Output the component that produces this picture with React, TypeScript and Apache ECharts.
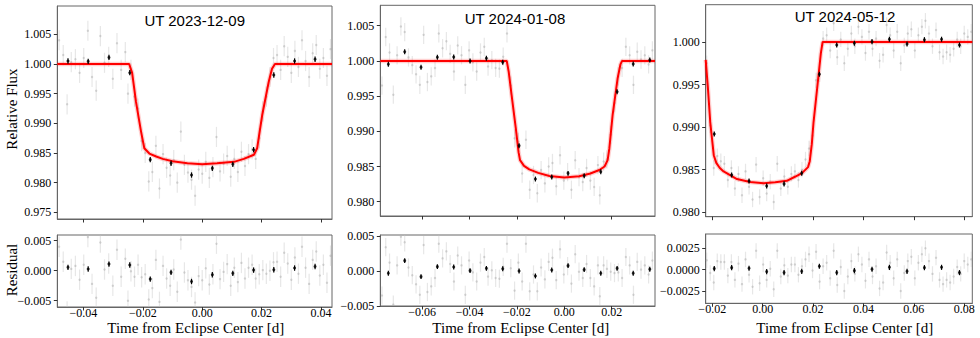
import React, { useEffect, useRef } from "react";
import * as echarts from "echarts";

const titles = ["UT 2023-12-09", "UT 2024-01-08", "UT 2024-05-12"];

// binned points: [time, flux, residual]
const binned1 = [
  [-0.0452, 1.0005, 0.00056], [-0.0384, 1.00044, 0.00028], [-0.0314, 1.0011, 0.0011],
  [-0.0244, 0.99853, 0.00094], [-0.0175, 0.98387, -0.0014], [-0.0105, 0.98326, -0.00028],
  [-0.0036, 0.98128, -0.0018], [0.0034, 0.98241, -0.00067], [0.0103, 0.98309, -0.00044],
  [0.0173, 0.98555, 0.0001], [0.0241, 0.99814, 0.00017], [0.0311, 1.0005, 0.00044],
  [0.038, 1.00079, 0.0007],
];
const binned2 = [
  [-0.0743, 0.99952, -0.00033], [-0.0674, 1.00131, 0.00148], [-0.0605, 0.99909, -0.00081],
  [-0.0536, 1.00051, 0.00062], [-0.0467, 1.00056, 0.00057], [-0.0398, 0.99999, 0.00005],
  [-0.0329, 1.00037, 0.00038], [-0.026, 0.9998, 0.00033], [-0.0191, 0.98796, 0.0],
  [-0.0122, 0.98322, -0.00071], [-0.0053, 0.98351, 0.00014], [0.0016, 0.98403, 0.00076],
  [0.0084, 0.98369, 0.00019], [0.0154, 0.98426, -0.00033], [0.0223, 0.99563, 0.00038],
  [0.0291, 0.99956, -0.00033], [0.0361, 1.00013, 0.00024],
];
const binned3 = [
  [-0.0192, 0.9892, 0.00012], [-0.0123, 0.98438, 0.00023], [-0.0054, 0.98368, 0.00016],
  [0.0016, 0.98309, -0.00023], [0.0085, 0.98333, -0.00035], [0.0155, 0.98458, -0.0002],
  [0.0225, 0.99621, 0.00039], [0.0294, 0.99965, -0.00035], [0.0364, 0.99985, -0.00012],
  [0.0434, 1.00004, 0.00004], [0.0503, 1.00032, 0.00027], [0.0573, 0.99977, -0.0002],
  [0.0642, 1.00027, 0.00023], [0.071, 1.00032, 0.00027], [0.0781, 0.99965, -0.00035],
];

// model curves: [time, flux]
const model1 = [
  [-0.0488, 1.0], [-0.0246, 1.0], [-0.0236, 0.9985], [-0.0223, 0.9936], [-0.0206, 0.9886],
  [-0.0195, 0.9858], [-0.0178, 0.9849], [-0.0155, 0.9844], [-0.0133, 0.984], [-0.01, 0.9836],
  [-0.005, 0.98325], [0.0, 0.9831], [0.005, 0.98325], [0.0107, 0.9835], [0.014, 0.984],
  [0.0174, 0.9847], [0.0185, 0.9858], [0.0202, 0.9914], [0.0224, 0.997], [0.0235, 0.9992],
  [0.0245, 1.0], [0.0437, 1.0],
];
const model2 = [
  [-0.0777, 1.0], [-0.0243, 1.0], [-0.0235, 0.9985], [-0.0222, 0.995], [-0.0205, 0.9905],
  [-0.0193, 0.987], [-0.0187, 0.9859], [-0.017, 0.9851], [-0.0148, 0.9846], [-0.011, 0.9841],
  [-0.0063, 0.98365], [0.0, 0.98345], [0.0063, 0.98362], [0.011, 0.984], [0.0148, 0.9845],
  [0.017, 0.985], [0.0183, 0.9859], [0.019, 0.9875], [0.0204, 0.9923], [0.0225, 0.9975],
  [0.0237, 0.9995], [0.0244, 1.0], [0.0383, 1.0],
];
const model3 = [
  [-0.0226, 0.9979], [-0.0217, 0.9945], [-0.0208, 0.9906], [-0.0194, 0.9867], [-0.0184, 0.9858],
  [-0.017, 0.9852], [-0.0155, 0.9848], [-0.0102, 0.9839], [-0.005, 0.98355], [0.0004, 0.9834],
  [0.005, 0.98352], [0.0096, 0.9837], [0.013, 0.9842], [0.0156, 0.9846], [0.018, 0.9853],
  [0.0187, 0.986], [0.0195, 0.988], [0.0202, 0.9906], [0.0219, 0.9953], [0.0231, 0.9987],
  [0.0238, 1.0], [0.0832, 1.0],
];

// unbinned points: [time, flux, residual]
const gray1 = [
  [-0.0482, 1.004, 0.004], [-0.0468, 1.0015, 0.0015], [-0.0455, 0.9932, -0.0068], [-0.0441, 1.0003, 0.0003],
  [-0.0427, 1.0008, 0.0008], [-0.0413, 0.9985, -0.0015], [-0.0399, 1.001, 0.001], [-0.0385, 1.0056, 0.0056],
  [-0.0371, 0.9978, -0.0022], [-0.0357, 0.9955, -0.0045], [-0.0343, 1.0047, 0.0047], [-0.0329, 1.0002, 0.0002],
  [-0.0315, 1.0012, 0.0012], [-0.0301, 0.9975, -0.0025], [-0.0287, 1.0035, 0.0035], [-0.0273, 0.999, -0.001],
  [-0.0259, 1.002, 0.002], [-0.025, 0.995, -0.005], [-0.024, 0.999, -0.0001], [-0.0228, 0.9945, -0.001],
  [-0.0216, 0.9925, 0.001], [-0.0204, 0.987, -0.0011], [-0.0192, 0.985, -0.0006], [-0.018, 0.9802, -0.0048],
  [-0.0168, 0.9818, -0.0029], [-0.0156, 0.9862, 0.0018], [-0.0144, 0.979, -0.0052], [-0.0132, 0.9848, 0.0008],
  [-0.012, 0.9825, -0.0013], [-0.0108, 0.9812, -0.0025], [-0.0096, 0.9838, 0.0002], [-0.0084, 0.98, -0.0035],
  [-0.0072, 0.9886, 0.0052], [-0.006, 0.983, -0.0003], [-0.0048, 0.9817, -0.0016], [-0.0036, 0.9805, -0.0027],
  [-0.0024, 0.9778, -0.0053], [-0.0012, 0.9822, -0.0009], [0.0, 0.9815, -0.0016], [0.0012, 0.9835, 0.0004],
  [0.0024, 0.9808, -0.0023], [0.0036, 0.9826, -0.0006], [0.0048, 0.9877, 0.0045], [0.006, 0.9819, -0.0014],
  [0.0072, 0.9832, -0.0002], [0.0084, 0.9845, 0.0011], [0.0096, 0.981, -0.0025], [0.0108, 0.984, 0.0005],
  [0.012, 0.9818, -0.0019], [0.0132, 0.9852, 0.0013], [0.0144, 0.9828, -0.0013], [0.0156, 0.9848, 0.0005],
  [0.0168, 0.9856, 0.001], [0.018, 0.984, -0.0013], [0.0192, 0.9875, -0.0006], [0.0204, 0.992, 0.0001],
  [0.0216, 0.9945, -0.0005], [0.0228, 0.9978, 0.0], [0.024, 1.001, 0.0014], [0.0252, 1.0015, 0.0015],
  [0.0264, 0.999, -0.001], [0.0276, 1.003, 0.003], [0.0288, 1.0012, 0.0012], [0.03, 0.9985, -0.0015],
  [0.0312, 1.0022, 0.0022], [0.0324, 0.9995, -0.0005], [0.0336, 1.004, 0.004], [0.0348, 1.0005, 0.0005],
  [0.036, 0.9978, -0.0022], [0.0372, 1.0018, 0.0018], [0.0384, 1.0032, 0.0032], [0.0396, 0.9992, -0.0008],
  [0.0408, 1.001, 0.001], [0.042, 0.998, -0.002], [0.0432, 1.0025, 0.0025],
];
const gray2 = [
  [-0.077, 0.9965, -0.0035], [-0.0754, 1.0034, 0.0034], [-0.0738, 1.0012, 0.0012], [-0.0722, 0.9952, -0.0048],
  [-0.0706, 1.0008, 0.0008], [-0.069, 1.0049, 0.0049], [-0.0674, 1.0041, 0.0041], [-0.0658, 1.0005, 0.0005],
  [-0.0642, 0.9994, -0.0006], [-0.0626, 0.9981, -0.0019], [-0.061, 0.9966, -0.0034], [-0.0594, 1.0037, 0.0037],
  [-0.0578, 0.997, -0.003], [-0.0562, 0.9978, -0.0022], [-0.0546, 0.999, -0.001], [-0.053, 1.0039, 0.0039],
  [-0.0514, 1.0018, 0.0018], [-0.0498, 1.0028, 0.0028], [-0.0482, 1.001, 0.001], [-0.0466, 0.9985, -0.0015],
  [-0.045, 1.0022, 0.0022], [-0.0434, 1.0008, 0.0008], [-0.0418, 0.9966, -0.0034], [-0.0402, 1.0015, 0.0015],
  [-0.0386, 0.9998, -0.0002], [-0.037, 0.9985, -0.0015], [-0.0354, 1.0012, 0.0012], [-0.0338, 1.002, 0.002],
  [-0.0322, 0.9992, -0.0008], [-0.0306, 1.0001, 0.0001], [-0.029, 0.999, -0.001], [-0.0274, 0.9989, -0.0011],
  [-0.0258, 1.0006, 0.0006], [-0.0242, 1.0039, 0.0039], [-0.0226, 0.9965, 0.0004], [-0.021, 0.989, -0.0028],
  [-0.0194, 0.9885, 0.0012], [-0.0178, 0.984, -0.0015], [-0.0162, 0.9888, 0.0039], [-0.0146, 0.9817, -0.0029],
  [-0.013, 0.9838, -0.0005], [-0.0114, 0.9812, -0.0029], [-0.0098, 0.9845, 0.0005], [-0.0082, 0.9826, -0.0012],
  [-0.0066, 0.985, 0.0013], [-0.005, 0.9855, 0.0019], [-0.0034, 0.9822, -0.0013], [-0.0018, 0.9866, 0.0031],
  [-0.0002, 0.983, -0.0005], [0.0014, 0.9842, 0.0007], [0.003, 0.9817, -0.0018], [0.0046, 0.9859, 0.0024],
  [0.0062, 0.9835, -0.0001], [0.0078, 0.9828, -0.001], [0.0094, 0.9848, 0.001], [0.011, 0.983, -0.001],
  [0.0126, 0.9821, -0.0022], [0.0142, 0.9852, 0.0008], [0.015, 0.9809, -0.0036], [0.0166, 0.9857, 0.0008],
  [0.018, 0.986, 0.0003], [0.0196, 0.9895, -0.0001], [0.0212, 0.994, -0.0003], [0.0228, 0.9978, -0.0002],
  [0.0244, 0.999, -0.001], [0.026, 1.002, 0.002], [0.0276, 1.0008, 0.0008], [0.0292, 0.9966, -0.0034],
  [0.0308, 1.0013, 0.0013], [0.0324, 1.0002, 0.0002], [0.034, 1.0008, 0.0008], [0.0356, 0.9995, -0.0005],
  [0.0372, 1.0015, 0.0015],
];
const gray3 = [
  [-0.0222, 0.9975, 0.0011], [-0.0208, 0.9902, -0.0004], [-0.0194, 0.9852, -0.0015], [-0.018, 0.9866, 0.001],
  [-0.0166, 0.986, 0.0009], [-0.0152, 0.9857, 0.0009], [-0.0138, 0.9838, -0.0007], [-0.0124, 0.9852, 0.0009],
  [-0.011, 0.9828, -0.0012], [-0.0096, 0.9845, 0.0007], [-0.0082, 0.982, -0.0017], [-0.0068, 0.9848, 0.0012],
  [-0.0054, 0.983, -0.0006], [-0.004, 0.9815, -0.002], [-0.0026, 0.9856, 0.0022], [-0.0012, 0.9818, -0.0016],
  [0.0002, 0.984, 0.0006], [0.0016, 0.9822, -0.0012], [0.003, 0.9836, 0.0001], [0.0044, 0.9812, -0.0023],
  [0.0058, 0.9857, 0.0022], [0.0072, 0.9828, -0.0008], [0.0086, 0.9842, 0.0005], [0.01, 0.983, -0.0007],
  [0.0114, 0.9845, 0.0006], [0.0128, 0.9848, 0.0006], [0.0142, 0.9838, -0.0006], [0.0156, 0.985, 0.0004],
  [0.017, 0.9862, 0.0012], [0.0184, 0.9875, 0.0018], [0.0198, 0.989, -0.0001], [0.0212, 0.9955, 0.0021],
  [0.0226, 0.9962, -0.0014], [0.024, 1.0004, 0.0004], [0.0254, 1.0008, 0.0008], [0.0268, 0.999, -0.001],
  [0.0282, 1.0022, 0.0022], [0.0296, 0.9982, -0.0018], [0.031, 1.0003, 0.0003], [0.0324, 0.9975, -0.0025],
  [0.0338, 0.9992, -0.0008], [0.0352, 1.001, 0.001], [0.0366, 0.9995, -0.0005], [0.038, 1.0018, 0.0018],
  [0.0394, 1.0006, 0.0006], [0.0408, 0.9987, -0.0013], [0.0422, 1.0012, 0.0012], [0.0436, 0.9992, -0.0008],
  [0.045, 1.0004, 0.0004], [0.0464, 0.9978, -0.0022], [0.0478, 0.9985, -0.0015], [0.0492, 1.002, 0.002],
  [0.0506, 1.0008, 0.0008], [0.052, 0.999, -0.001], [0.0534, 1.0012, 0.0012], [0.0548, 0.9975, -0.0025],
  [0.0562, 0.9996, -0.0004], [0.0576, 1.001, 0.001], [0.059, 1.0015, 0.0015], [0.0604, 0.999, -0.001],
  [0.0618, 1.0008, 0.0008], [0.0632, 1.0018, 0.0018], [0.0646, 1.0025, 0.0025], [0.066, 1.001, 0.001],
  [0.0674, 0.9995, -0.0005], [0.0688, 1.0014, 0.0014], [0.0702, 0.9988, -0.0012], [0.0716, 0.9983, -0.0017],
  [0.073, 0.9988, -0.0012], [0.0744, 0.9985, -0.0015], [0.0758, 0.9992, -0.0008], [0.0772, 1.0003, 0.0003],
  [0.0786, 0.9995, -0.0005], [0.08, 1.001, 0.001], [0.0814, 1.0006, 0.0006], [0.0828, 1.0012, 0.0012],
];

// tick values
const xTicks1 = [-0.04, -0.02, 0.0, 0.02, 0.04];
const xTicks2 = [-0.06, -0.04, -0.02, 0.0, 0.02];
const xTicks3 = [-0.02, 0.0, 0.02, 0.04, 0.06, 0.08];
const yTicks1 = [0.975, 0.98, 0.985, 0.99, 0.995, 1.0, 1.005];
const yTicks2 = [0.98, 0.985, 0.99, 0.995, 1.0, 1.005];
const yTicks3 = [0.98, 0.985, 0.99, 0.995, 1.0];
const rTicks1 = [-0.005, 0.0, 0.005];
const rTicks2 = [-0.005, 0.0, 0.005];
const rTicks3 = [-0.0025, 0.0, 0.0025];

const SERIF = "Liberation Serif";
const SANS = "Liberation Sans";

const panels = [
  {
    title: titles[0], titleX: 194.7, titleY: 20, xlabX: 195.7,
    binned: binned1, model: model1, gray: gray1,
    xTicks: xTicks1, yTicks: yTicks1, rTicks: rTicks1, rDec: 3,
    xr: [-0.0488, 0.0437], yr: [0.97387, 1.00977], rr: [-0.00605, 0.00595],
    top: { left: 57.3, top: 6, width: 274.7, height: 213 },
    bot: { left: 57.3, top: 235, width: 274.7, height: 72 },
    ge: 0.0017, be: 0.00045,
  },
  {
    title: titles[1], titleX: 515, titleY: 18.3, xlabX: 520.8,
    binned: binned2, model: model2, gray: gray2,
    xTicks: xTicks2, yTicks: yTicks2, rTicks: rTicks2, rDec: 3,
    xr: [-0.0777, 0.0383], yr: [0.97797, 1.0079], rr: [-0.005, 0.00514],
    top: { left: 380.3, top: 5.3, width: 274.7, height: 210.7 },
    bot: { left: 380.3, top: 235, width: 274.7, height: 71 },
    ge: 0.0013, be: 0.00035,
  },
  {
    title: titles[2], titleX: 845, titleY: 16.7, xlabX: 844.7,
    binned: binned3, model: model3, gray: gray3,
    xTicks: xTicks3, yTicks: yTicks3, rTicks: rTicks3, rDec: 4,
    xr: [-0.0226, 0.0832], yr: [0.97948, 1.00438], rr: [-0.00394, 0.00417],
    top: { left: 705.7, top: 4.7, width: 266.6, height: 212 },
    bot: { left: 705.7, top: 234, width: 266.6, height: 69.3 },
    ge: 0.0009, be: 0.0003,
  },
];

const fmt = (d: number) => (v: number) => {
  const s = Math.abs(v) < 1e-12 ? (0).toFixed(d) : Number(v).toFixed(d);
  return s.replace("-", "\u2212");
};

function errRender(color: string, width: number, lo: number, hi: number) {
  return (_p: any, api: any) => {
    const t = api.value(0);
    const y = api.value(1);
    const e = api.value(2);
    const a0 = Math.max(lo, y - e);
    const b0 = Math.min(hi, y + e);
    if (a0 > hi || b0 < lo) return null;
    const a = api.coord([t, a0]);
    const b = api.coord([t, b0]);
    return {
      type: "line",
      shape: { x1: a[0], y1: a[1], x2: b[0], y2: b[1] },
      style: { stroke: color, lineWidth: width },
      silent: true,
    };
  };
}

function textEl(text: string, x: number, y: number, family: string, rot = 0) {
  return {
    type: "text",
    x,
    y,
    rotation: rot,
    z: 100,
    style: {
      text,
      fontFamily: family,
      fontSize: 15,
      lineHeight: 14,
      fill: "#000",
      align: "center",
      verticalAlign: "middle",
    },
  };
}

function buildOption() {
  const grid: any[] = [];
  const xAxis: any[] = [];
  const yAxis: any[] = [];
  const series: any[] = [];
  const graphic: any[] = [];
  const frame = "#666";

  panels.forEach((p, i) => {
    const gTop = i * 2;
    const gBot = i * 2 + 1;
    [p.top, p.bot].forEach((g) => {
      grid.push({
        ...g,
        show: true,
        borderColor: frame,
        borderWidth: 1,
        backgroundColor: "transparent",
        containLabel: false,
      });
    });
    [gTop, gBot].forEach((gi) => {
      const isBot = gi === gBot;
      xAxis.push({
        type: "value",
        gridIndex: gi,
        min: p.xr[0],
        max: p.xr[1],
        axisLine: { show: true, onZero: false, lineStyle: { color: frame, width: 1 } },
        axisTick: { show: true, inside: false, length: 3.5, customValues: p.xTicks, lineStyle: { color: "#333" } },
        axisLabel: {
          show: isBot,
          customValues: p.xTicks,
          formatter: fmt(2),
          fontFamily: SERIF,
          fontSize: 12,
          lineHeight: 10,
          color: "#000",
          margin: 1,
        },
        splitLine: { show: false },
      });
      const yr = isBot ? p.rr : p.yr;
      const yt = isBot ? p.rTicks : p.yTicks;
      yAxis.push({
        type: "value",
        gridIndex: gi,
        min: yr[0],
        max: yr[1],
        axisLine: { show: true, onZero: false, lineStyle: { color: frame, width: 1 } },
        axisTick: { show: true, inside: false, length: 3.5, customValues: yt, lineStyle: { color: "#333" } },
        axisLabel: {
          show: true,
          customValues: yt,
          formatter: fmt(isBot ? p.rDec : 3),
          fontFamily: SERIF,
          fontSize: 12,
          color: "#000",
          margin: 6,
        },
        splitLine: { show: false },
      });
    });

    const yr = p.yr;
    series.push({
      type: "custom",
      xAxisIndex: gTop,
      yAxisIndex: gTop,
      data: p.gray.map((d) => [d[0], d[1], p.ge]),
      encode: { x: 0, y: 1 },
      renderItem: errRender("rgba(195,195,195,0.4)", 1.2, yr[0], yr[1]),
      z: 1,
    });
    series.push({
      type: "scatter",
      xAxisIndex: gTop,
      yAxisIndex: gTop,
      data: p.gray.map((d) => [d[0], d[1]]),
      symbolSize: 2.4,
      itemStyle: { color: "rgba(150,150,150,0.45)" },
      z: 2,
    });
    series.push({
      type: "line",
      xAxisIndex: gTop,
      yAxisIndex: gTop,
      data: p.model,
      showSymbol: false,
      lineStyle: { color: "rgba(255,0,0,0.18)", width: 4.5 },
      z: 3,
    });
    series.push({
      type: "line",
      xAxisIndex: gTop,
      yAxisIndex: gTop,
      data: p.model,
      showSymbol: false,
      lineStyle: { color: "#ff0000", width: 2 },
      z: 4,
    });
    series.push({
      type: "custom",
      xAxisIndex: gTop,
      yAxisIndex: gTop,
      data: p.binned.map((d) => [d[0], d[1], p.be]),
      encode: { x: 0, y: 1 },
      renderItem: errRender("#000", 1.2, yr[0], yr[1]),
      z: 5,
    });
    series.push({
      type: "scatter",
      xAxisIndex: gTop,
      yAxisIndex: gTop,
      data: p.binned.map((d) => [d[0], d[1]]),
      symbolSize: 3,
      itemStyle: { color: "#000" },
      z: 6,
    });

    const rr = p.rr;
    series.push({
      type: "custom",
      xAxisIndex: gBot,
      yAxisIndex: gBot,
      data: p.gray.map((d) => [d[0], d[2], p.ge]),
      encode: { x: 0, y: 1 },
      renderItem: errRender("rgba(195,195,195,0.4)", 1.2, rr[0], rr[1]),
      z: 1,
    });
    series.push({
      type: "scatter",
      xAxisIndex: gBot,
      yAxisIndex: gBot,
      data: p.gray.map((d) => [d[0], d[2]]),
      symbolSize: 2.4,
      itemStyle: { color: "rgba(150,150,150,0.45)" },
      z: 2,
    });
    series.push({
      type: "custom",
      xAxisIndex: gBot,
      yAxisIndex: gBot,
      data: p.binned.map((d) => [d[0], d[2], p.be]),
      encode: { x: 0, y: 1 },
      renderItem: errRender("#000", 1.2, rr[0], rr[1]),
      z: 5,
    });
    series.push({
      type: "scatter",
      xAxisIndex: gBot,
      yAxisIndex: gBot,
      data: p.binned.map((d) => [d[0], d[2]]),
      symbolSize: 3,
      itemStyle: { color: "#000" },
      z: 6,
    });

    graphic.push(textEl(p.title, p.titleX, p.titleY, SANS));
    graphic.push(textEl("Time from Eclipse Center [d]", p.xlabX, 328, SERIF));
  });

  graphic.push(textEl("Relative Flux", 11.5, 109, SERIF, Math.PI / 2));
  graphic.push(textEl("Residual", 11.5, 270, SERIF, Math.PI / 2));

  return {
    animation: false,
    backgroundColor: "#fff",
    grid,
    xAxis,
    yAxis,
    series,
    graphic,
  };
}

export default function App() {
  const ref = useRef<HTMLDivElement>(null);
  useEffect(() => {
    if (!ref.current) return;
    const chart = echarts.init(ref.current, undefined, { renderer: "svg" });
    chart.setOption(buildOption() as any);
    return () => chart.dispose();
  }, []);
  return (
    <div
      ref={ref}
      style={{ position: "fixed", left: 0, top: 0, width: 980, height: 338, background: "#fff" }}
    />
  );
}
